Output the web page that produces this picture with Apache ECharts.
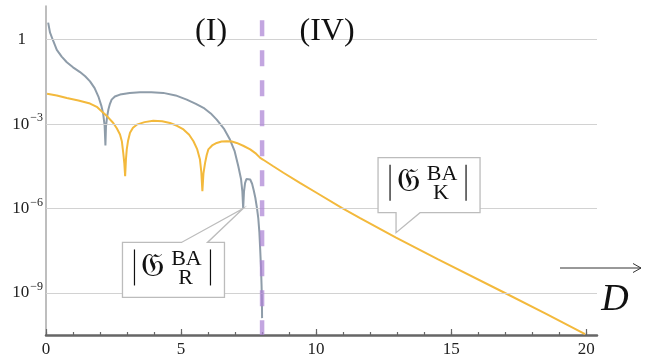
<!DOCTYPE html>
<html><head><meta charset="utf-8">
<script src="https://cdn.jsdelivr.net/npm/echarts@6/dist/echarts.min.js"></script>
<style>html,body{margin:0;padding:0;background:#fff}#c{width:662px;height:360px}</style>
</head><body><div id="c"></div>
<script>
// |G_R^BA| : distance D and log10 of magnitude
const dR = [0.08,0.15,0.25,0.40,0.58,0.77,1.0,1.26,1.45,1.63,1.80,1.94,2.05,2.12,2.17,2.20,2.22,2.26,2.31,2.36,2.43,2.55,2.74,3.1,3.48,3.9,4.34,4.8,5.21,5.55,5.83,6.1,6.32,6.6,6.81,6.98,7.12,7.22,7.27,7.30,7.33,7.37,7.42,7.49,7.56,7.63,7.69,7.75,7.81,7.86,7.90,7.93,7.96,7.98,7.995,8.0];
const log10R = [0.61,0.25,0.00,-0.36,-0.60,-0.80,-0.98,-1.15,-1.30,-1.48,-1.72,-2.02,-2.35,-2.65,-3.05,-3.76,-3.10,-2.75,-2.48,-2.30,-2.13,-2.02,-1.95,-1.89,-1.87,-1.87,-1.89,-1.98,-2.13,-2.28,-2.42,-2.62,-2.84,-3.18,-3.55,-3.95,-4.50,-4.95,-5.40,-6.00,-5.40,-5.10,-4.95,-4.91,-4.97,-5.12,-5.35,-5.62,-5.98,-6.35,-6.85,-7.45,-8.10,-8.70,-9.30,-9.90];
// |G_K^BA|
const dK = [0.04,0.4,0.77,1.2,1.63,1.9,2.12,2.3,2.49,2.62,2.74,2.81,2.86,2.90,2.93,2.96,2.99,3.04,3.11,3.22,3.36,3.65,3.97,4.3,4.59,4.85,5.09,5.30,5.46,5.60,5.70,5.75,5.79,5.83,5.89,5.95,6.01,6.15,6.32,6.5,6.69,6.88,7.06,7.3,7.56,7.75,7.93,8.03,8.4,8.79,9.4,10.03,10.95,11.63,12.96,14.5,16.94,18.5,19.96];
const log10K = [-1.92,-1.98,-2.07,-2.16,-2.27,-2.40,-2.60,-2.76,-2.96,-3.15,-3.37,-3.62,-4.02,-4.40,-4.85,-4.25,-3.90,-3.58,-3.31,-3.13,-3.02,-2.93,-2.88,-2.90,-2.96,-3.06,-3.19,-3.38,-3.61,-3.90,-4.26,-4.70,-5.39,-4.75,-4.38,-4.10,-3.90,-3.76,-3.67,-3.62,-3.61,-3.62,-3.67,-3.77,-3.90,-4.03,-4.20,-4.26,-4.49,-4.73,-5.09,-5.45,-5.98,-6.34,-7.04,-7.80,-8.98,-9.74,-10.47];
const boundaryD = 8;
const boundaryLogRange = [0.69, -10.5];
const xTickLabels = [0,5,10,15,20];
const xMinorTicks = [0,1,2,3,4,5,6,7,8,9,10,11,12,13,14,15,16,17,18,19,20];
const yTickExps = [-9,-6,-3,0];
const regionLabels = ['(I)','(IV)'];
const axisTitle = 'D';
const calloutK = {tip:[12.96,-6.86], sub:'K'};
const calloutR = {tip:[7.30,-6.0], sub:'R'};

const serif = "'Liberation Serif','DejaVu Serif',serif";
const chart = echarts.init(document.getElementById('c'), null, {renderer:'canvas'});
const zip = (a,b) => a.map((v,i)=>[v,b[i]]);
const gridTop = 6, gridBottom = 25, H = 360;

chart.setOption({
  animation:false,
  grid:{left:46,right:65,top:gridTop,bottom:gridBottom,containLabel:false},
  xAxis:[{
    type:'value',min:0,max:20.4,position:'bottom',
    axisLine:{show:true,onZero:false,lineStyle:{color:'#666',width:2.5}},
    axisTick:{show:true,inside:true,length:3,customValues:xMinorTicks,lineStyle:{color:'#666',width:1.2}},
    axisLabel:{customValues:xTickLabels,fontFamily:serif,fontSize:17,color:'#222',margin:6},
    splitLine:{show:false}
  },{
    type:'value',min:0,max:20.4,position:'top',offset:-(H-gridTop-gridBottom),
    axisLine:{show:false},
    axisTick:{show:true,inside:false,length:6,customValues:xTickLabels,lineStyle:{color:'#666',width:1.2}},
    axisLabel:{show:false},
    splitLine:{show:false}
  }],
  yAxis:{
    type:'value',min:-10.5,max:1.2,
    axisLine:{show:true,onZero:false,lineStyle:{color:'#a8a8a8',width:1.5}},
    axisTick:{show:false},
    splitLine:{show:false},
    axisLabel:{
      customValues:yTickExps,margin:3,
      formatter:v=> v===0 ? '{n|1}{sp|}' : '{n|10}{e|\u2212'+Math.abs(v)+'}',
      rich:{
        n:{fontFamily:serif,fontSize:17,color:'#222'},
        e:{fontFamily:serif,fontSize:12,color:'#222',padding:[0,0,12,1]},
        sp:{width:17}
      }
    }
  },
  series:[
    {type:'line',data:[],silent:true,z:1,
     markLine:{silent:true,symbol:['none','none'],label:{show:false},
       lineStyle:{color:'#d2d2d2',width:1.2,type:'solid'},
       data:yTickExps.map(e=>({yAxis:e}))}},
    {name:'R',type:'line',data:zip(dR,log10R),showSymbol:false,smooth:false,z:3,
     lineStyle:{color:'#8e9ca9',width:2},itemStyle:{color:'#8e9ca9'}},
    {name:'K',type:'line',data:zip(dK,log10K),showSymbol:false,smooth:false,z:3,
     lineStyle:{color:'#f3b93c',width:2},itemStyle:{color:'#f3b93c'}},
    {name:'boundary',type:'line',data:boundaryLogRange.map(v=>[boundaryD,v]),showSymbol:false,z:5,
     lineStyle:{color:'rgba(172,132,212,0.72)',width:4.5,type:[16,14]}}
  ]
});

function callout(c, boxRel, pointer){
  const [tx,ty] = chart.convertToPixel({gridIndex:0}, c.tip);
  const bx = tx - boxRel[0], by = ty - boxRel[1];
  const W=102, Hb=55;
  let pts;
  if (pointer==='bottom'){
    pts=[[bx,by],[bx+W,by],[bx+W,by+Hb],[bx+42,by+Hb],[tx,ty],[bx+18,by+Hb],[bx,by+Hb]];
  } else {
    pts=[[bx,by],[bx+59,by],[tx,ty],[bx+85,by],[bx+W,by],[bx+W,by+Hb],[bx,by+Hb]];
  }
  const ink='#111';
  return [
    {type:'polygon',z:20,shape:{points:pts},style:{fill:'#fff',stroke:'#bcbcbc',lineWidth:1.3}},
    {type:'line',z:21,shape:{x1:bx+12,y1:by+7,x2:bx+12,y2:by+43},style:{stroke:ink,lineWidth:1.2}},
    {type:'line',z:21,shape:{x1:bx+88,y1:by+7,x2:bx+88,y2:by+43},style:{stroke:ink,lineWidth:1.2}},
    {type:'text',z:21,style:{text:'\u{1D50A}',x:bx+30,y:by+25,font:"33px 'DejaVu Serif','DejaVu Sans','Noto Sans',serif",fill:ink,textAlign:'center',textVerticalAlign:'middle'}},
    {type:'text',z:21,style:{text:'BA',x:bx+64,y:by+17,font:'22px '+serif,fill:ink,textAlign:'center',textVerticalAlign:'middle'}},
    {type:'text',z:21,style:{text:c.sub,x:bx+63,y:by+36,font:'22px '+serif,fill:ink,textAlign:'center',textVerticalAlign:'middle'}}
  ];
}

const [bxp, byp] = chart.convertToPixel({gridIndex:0}, [boundaryD, 0]);
const graphics = [
  {type:'text',z:10,style:{text:regionLabels[0],x:bxp-51,y:byp-8,font:'32px '+serif,fill:'#111',textAlign:'center',textVerticalAlign:'middle'}},
  {type:'text',z:10,style:{text:regionLabels[1],x:bxp+65,y:byp-8,font:'32px '+serif,fill:'#111',textAlign:'center',textVerticalAlign:'middle'}},
  {type:'line',z:10,shape:{x1:560,y1:268,x2:641,y2:268},style:{stroke:'#333',lineWidth:1}},
  {type:'polyline',z:10,shape:{points:[[633,263.5],[641,268],[633,272.5]]},style:{stroke:'#333',lineWidth:1,fill:null}},
  {type:'text',z:10,style:{text:axisTitle,x:615,y:300,font:'italic 38px '+serif,fill:'#111',textAlign:'center',textVerticalAlign:'middle'}}
].concat(callout(calloutK,[18,75],'bottom'), callout(calloutR,[120.7,-34],'top'));

chart.setOption({graphic:graphics});
</script></body></html>
